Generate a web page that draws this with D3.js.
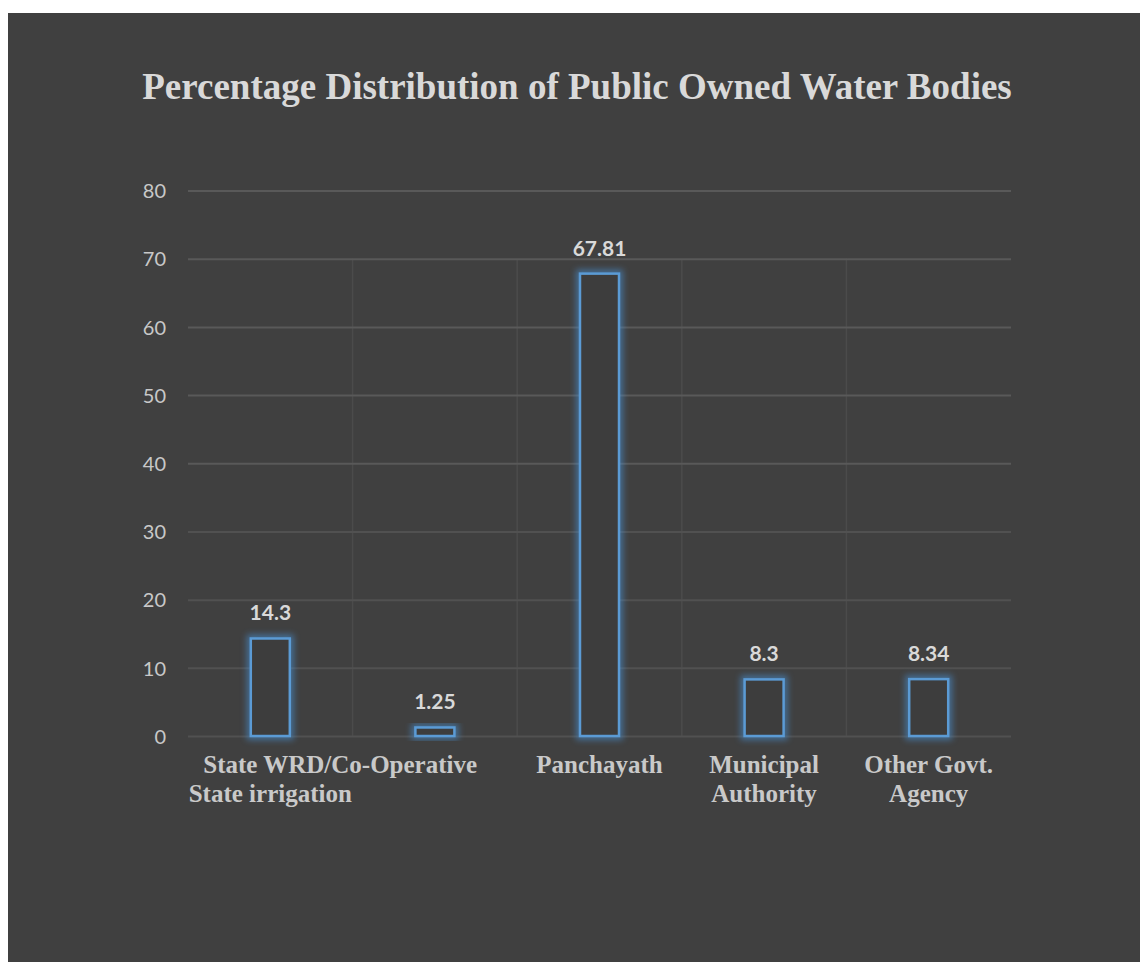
<!DOCTYPE html>
<html>
<head>
<meta charset="utf-8">
<script src="https://cdn.jsdelivr.net/npm/d3@7"></script>
<style>
  body { margin: 0; background: #fff; }
  svg { display: block; }
</style>
</head>
<body>
<svg width="1140" height="965"></svg>
<script>
// chart data
var categories = ["State WRD/State irrigation", "Co-Operative", "Panchayath", "Municipal Authority", "Other Govt. Agency"];
var labelLines = [["State WRD/", "State irrigation"], ["Co-Operative"], ["Panchayath"], ["Municipal", "Authority"], ["Other Govt.", "Agency"]];
var values = [14.3, 1.25, 67.81, 8.3, 8.34];
var valueText = ["14.3", "1.25", "67.81", "8.3", "8.34"];
var yTicks = [0, 10, 20, 30, 40, 50, 60, 70, 80];
var title = "Percentage Distribution of Public Owned Water Bodies";

var svg = d3.select("svg");
var serif = "'Liberation Serif', 'DejaVu Serif', serif";
var sans = "Lato, 'Open Sans', sans-serif";

// glow
var defs = svg.append("defs");
var f = defs.append("filter").attr("id", "glow")
    .attr("x", "-50%").attr("y", "-50%").attr("width", "200%").attr("height", "200%");
f.append("feGaussianBlur").attr("stdDeviation", 3);

// background
svg.append("rect")
    .attr("x", 8).attr("y", 13)
    .attr("width", 1132).attr("height", 949)
    .attr("fill", "#404040");

svg.append("text")
    .attr("x", 577).attr("y", 99)
    .attr("text-anchor", "middle")
    .attr("font-family", serif)
    .attr("font-weight", "bold")
    .attr("font-size", 37)
    .attr("fill", "#d9d9d9")
    .text(title);

var x = d3.scaleBand()
    .domain(categories)
    .range([188, 1011])
    .paddingInner(0.763)
    .paddingOuter(0.3815);

var y = d3.scaleLinear()
    .domain([0, 80])
    .range([736, 190.5]);

var step = x.step();
var bandLeft = function(c){ return x(c) - x.paddingInner() * step / 2; };

// faint category separators
svg.append("g").selectAll("line")
    .data(categories.slice(1))
    .enter().append("line")
    .attr("x1", function(d){ return bandLeft(d); })
    .attr("x2", function(d){ return bandLeft(d); })
    .attr("y1", y(70)).attr("y2", y(0))
    .attr("stroke", "#4b4b4b")
    .attr("stroke-width", 1.5);

// y axis + grid
var yAxis = d3.axisLeft(y)
    .tickValues(yTicks)
    .tickSize(-(1011 - 188))
    .tickPadding(22);
var ga = svg.append("g")
    .attr("transform", "translate(188,0)")
    .call(yAxis);
ga.select(".domain").remove();
ga.selectAll(".tick line")
    .attr("stroke", function(d){ return d >= 40 ? "#595959" : "#515151"; })
    .attr("stroke-width", 2);
ga.selectAll(".tick text")
    .attr("fill", "#c8c8c8")
    .attr("font-family", sans)
    .attr("font-size", 20)
    .attr("dy", "0.36em");

// bars
var bars = svg.append("g");
bars.selectAll("rect.glow")
    .data(values)
    .enter().append("rect")
    .attr("class", "glow")
    .attr("x", function(d, i){ return x(categories[i]); })
    .attr("y", function(d){ return y(d); })
    .attr("width", x.bandwidth())
    .attr("height", function(d){ return y(0) - y(d); })
    .attr("fill", "none")
    .attr("stroke", "#4a8fd0")
    .attr("stroke-width", 8)
    .attr("opacity", 0.6)
    .attr("filter", "url(#glow)");
bars.selectAll("rect.bar")
    .data(values)
    .enter().append("rect")
    .attr("class", "bar")
    .attr("x", function(d, i){ return x(categories[i]); })
    .attr("y", function(d){ return y(d); })
    .attr("width", x.bandwidth())
    .attr("height", function(d){ return y(0) - y(d); })
    .attr("fill", "#3d3d3d")
    .attr("stroke", "#5b9bd5")
    .attr("stroke-width", 2.5);

// value labels
svg.append("g").selectAll("text")
    .data(values)
    .enter().append("text")
    .attr("x", function(d, i){ return x(categories[i]) + x.bandwidth() / 2; })
    .attr("y", function(d){ return y(d) - 18; })
    .attr("text-anchor", "middle")
    .attr("font-family", sans)
    .attr("font-weight", "bold")
    .attr("font-size", 21)
    .attr("fill", "#d9d9d9")
    .text(function(d, i){ return valueText[i]; });

// category labels
var gl = svg.append("g");
var prevRight = 0;
labelLines.forEach(function(lines, i){
    var cx = x(categories[i]) + x.bandwidth() / 2;
    var t = gl.append("text")
        .attr("font-family", serif)
        .attr("font-weight", "bold")
        .attr("font-size", 25)
        .attr("fill", "#c9c9c9")
        .attr("text-anchor", "middle");
    lines.forEach(function(s, k){
        t.append("tspan").attr("x", cx).attr("y", 773 + k * 29).text(s);
    });
    var w = t.select("tspan").node().getComputedTextLength();
    if (i == 0) {
        // first label sits a bit left of its bar in the original
        t.select("tspan").attr("x", cx - 3);
        prevRight = cx - 3 + w / 2;
    }
    if (i == 1) {
        // the original runs this one straight on from "State WRD/"
        t.attr("text-anchor", "start").select("tspan").attr("x", prevRight);
    }
});
</script>
</body>
</html>
